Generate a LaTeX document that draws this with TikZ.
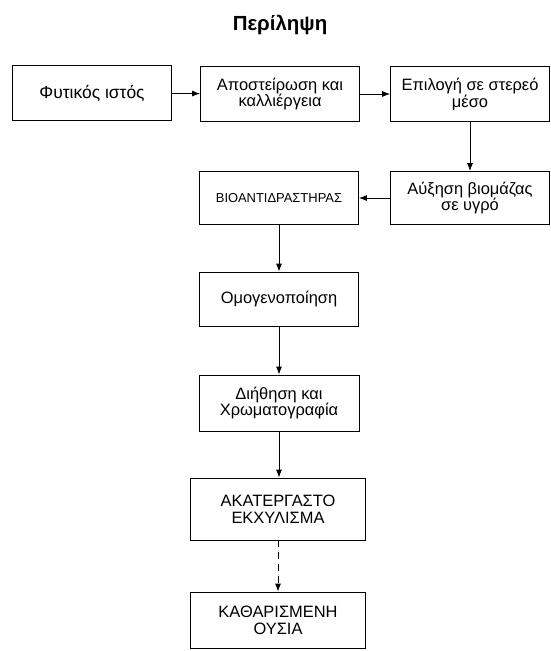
\documentclass[tikz,border=0pt]{standalone}
\usepackage{fontspec}
\setmainfont{Liberation Sans}
\usetikzlibrary{arrows.meta}

\begin{document}
\begin{tikzpicture}[x=1bp, y=-1bp,
    stage/.style={draw, line width=0.8bp, minimum width=159bp, minimum height=55bp,
        align=center, inner sep=2bp, font=\fontsize{16.5}{17}\selectfont},
    flow/.style={-{Latex[length=8bp,width=6bp]}, line width=0.8bp}]
    \useasboundingbox (0,0) rectangle (551,651);
    \node[font=\bfseries\fontsize{20.5}{22}\selectfont, anchor=base] (title) at (280,31) {Περίληψη};
    % top row
    \node[stage, font=\fontsize{17.5}{17}\selectfont] (fyt) at (92,93) {Φυτικός ιστός};
    \node[stage] (apost) at (280,94) {Αποστείρωση και\\καλλιέργεια};
    \node[stage] (epil) at (470,94) {Επιλογή σε στερεό\\μέσο};
    % second row
    \node[stage, minimum height=53bp] (afx) at (470,198) {Αύξηση βιομάζας\\σε υγρό};
    \node[stage, minimum height=53bp, font=\fontsize{13}{15}\selectfont] (bio) at (279,198) {ΒΙΟΑΝΤΙΔΡΑΣΤΗΡΑΣ};
    % column
    \node[stage, minimum height=54bp] (omog) at (279,299) {Ομογενοποίηση};
    \node[stage, minimum width=160bp, minimum height=56bp] (dieth) at (279,403) {Διήθηση και\\Χρωματογραφία};
    \node[stage, minimum width=175bp, minimum height=62bp] (akat) at (278,509) {ΑΚΑΤΕΡΓΑΣΤΟ\\ΕΚΧΥΛΙΣΜΑ};
    \node[stage, minimum width=175bp, minimum height=56bp] (kath) at (278,620) {ΚΑΘΑΡΙΣΜΕΝΗ\\ΟΥΣΙΑ};

    \draw[flow] (fyt) -- (apost);
    \draw[flow] (apost) -- (epil);
    \draw[flow] (epil) -- (afx);
    \draw[flow] (afx) -- (bio);
    \foreach \a/\b in {bio/omog, omog/dieth, dieth/akat} {
        \draw[flow] (\a.south) -- (\a.south |- \b.north);
    }
    \draw[flow, dash pattern=on 7bp off 5bp] (akat.south) -- (akat.south |- kath.north);
\end{tikzpicture}
\end{document}
